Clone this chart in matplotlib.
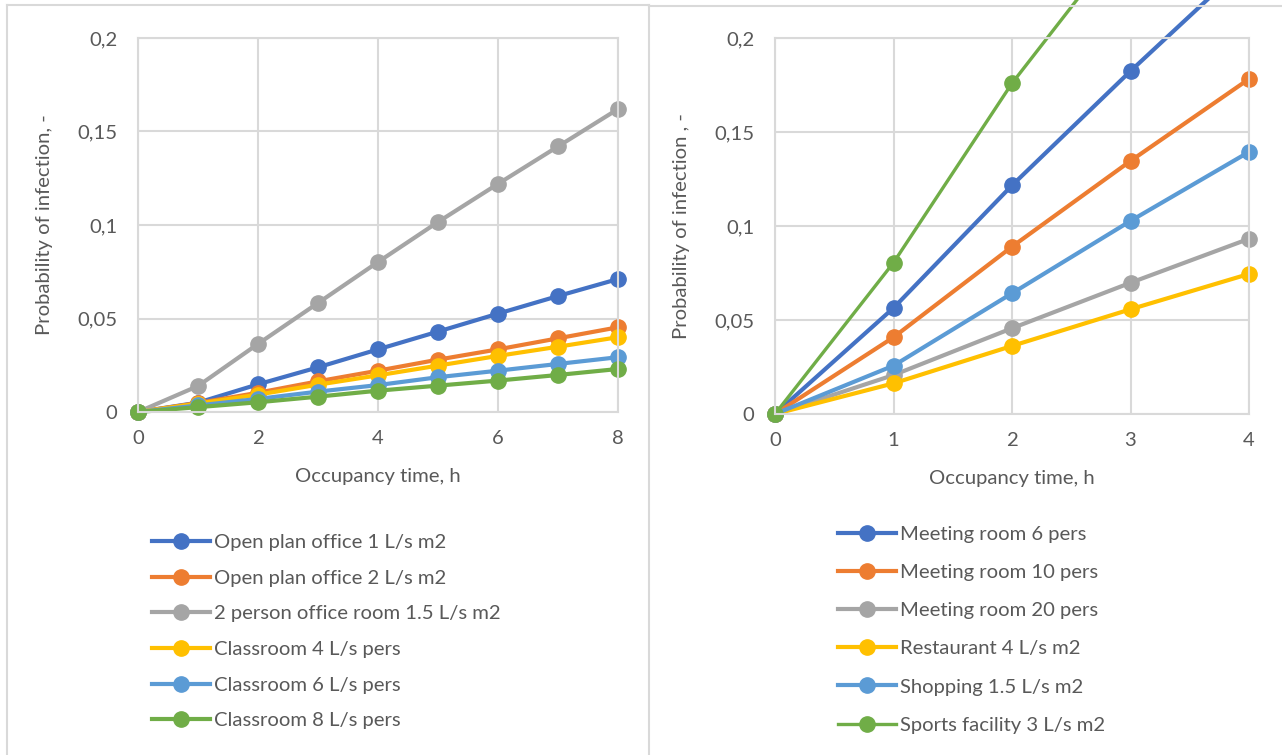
import matplotlib
matplotlib.use("Agg")
import matplotlib.pyplot as plt
from matplotlib.lines import Line2D
from matplotlib.patches import Rectangle
from matplotlib.ticker import FuncFormatter, MultipleLocator

plt.rcParams['font.family'] = ['Lato', 'DejaVu Sans']

# office / school spaces, 0-8 h
hours_left = [0, 1, 2, 3, 4, 5, 6, 7, 8]
open_office_1 = [0, 0.005, 0.0148, 0.0239, 0.0335, 0.0430, 0.0526, 0.0620, 0.0711]
open_office_2 = [0, 0.0048, 0.0103, 0.0164, 0.0221, 0.0280, 0.0335, 0.0394, 0.0453]
two_person_office = [0, 0.0139, 0.0364, 0.0583, 0.0802, 0.1016, 0.1220, 0.1420, 0.1620]
classroom_4 = [0, 0.0045, 0.0093, 0.0146, 0.0196, 0.0248, 0.0300, 0.0349, 0.0400]
classroom_6 = [0, 0.0035, 0.0070, 0.0109, 0.0144, 0.0186, 0.0221, 0.0257, 0.0293]
classroom_8 = [0, 0.0026, 0.0052, 0.0082, 0.0114, 0.0141, 0.0168, 0.0198, 0.0230]

labels_left = ["Open plan office 1 L/s m2", "Open plan office 2 L/s m2",
               "2 person office room 1.5 L/s m2", "Classroom 4 L/s pers",
               "Classroom 6 L/s pers", "Classroom 8 L/s pers"]

# meeting rooms and public spaces, 0-4 h
hours_right = [0, 1, 2, 3, 4]
meeting_6 = [0, 0.0564, 0.1216, 0.1824, 0.2410]
meeting_10 = [0, 0.0408, 0.0890, 0.1346, 0.1782]
meeting_20 = [0, 0.0207, 0.0456, 0.0698, 0.0932]
restaurant = [0, 0.0163, 0.0362, 0.0557, 0.0745]
shopping = [0, 0.0257, 0.0642, 0.1027, 0.1394]
sports = [0, 0.0805, 0.1759, 0.2570, 0.3350]

labels_right = ["Meeting room 6 pers", "Meeting room 10 pers", "Meeting room 20 pers",
                "Restaurant 4 L/s m2", "Shopping 1.5 L/s m2", "Sports facility 3 L/s m2"]

colors = ["#4472C4", "#ED7D31", "#A5A5A5", "#FFC000", "#5B9BD5", "#70AD47"]
grid_col = "#D9D9D9"
text_col = "#595959"
fs = 14.6

fig = plt.figure(figsize=(12.82, 7.55), dpi=100)

# panel frames
fig.add_artist(Line2D([7/1282, 7/1282], [0, 1 - 5/755], color=grid_col, lw=1.5))
fig.add_artist(Line2D([7/1282, 649/1282], [1 - 5/755, 1 - 5/755], color=grid_col, lw=1.5))
fig.add_artist(Line2D([649/1282, 649/1282], [0, 1 - 5/755], color=grid_col, lw=1.5))
fig.add_artist(Line2D([649/1282, 1], [1 - 6/755, 1 - 6/755], color=grid_col, lw=1.5))

ax1 = fig.add_axes([138/1282, 1 - 412/755, 480/1282, 374/755])
ax2 = fig.add_axes([775/1282, 1 - 414/755, 474/1282, 376/755])

comma = FuncFormatter(lambda v, p: ('%g' % round(v, 3)).replace('.', ','))


def style(ax, xmax, xstep, ylab):
    ax.set_xlim(0, xmax)
    ax.set_ylim(0, 0.2)
    ax.xaxis.set_major_locator(MultipleLocator(xstep))
    ax.yaxis.set_major_locator(MultipleLocator(0.05))
    ax.yaxis.set_major_formatter(comma)
    ax.grid(True, color=grid_col, lw=1.5)
    ax.set_axisbelow(True)
    for s in ax.spines.values():
        s.set_color(grid_col)
        s.set_linewidth(1.5)
    ax.tick_params(length=0, labelsize=fs, colors=text_col)
    ax.tick_params(axis='x', pad=13)
    ax.tick_params(axis='y', pad=15)
    ax.set_xlabel("Occupancy time, h", fontsize=fs, color=text_col, labelpad=15)
    ax.set_ylabel(ylab, fontsize=fs, color=text_col, labelpad=17)


def draw(ax, x, series, labels, widths):
    clip = Rectangle((-0.05, -0.06), 1.1, 1.06, transform=ax.transAxes)
    for ys, c, lab, w in zip(series, colors, labels, widths):
        ln, = ax.plot(x, ys, color=c, lw=w, marker='o', ms=11, label=lab, clip_on=False)
        ln.set_clip_path(clip)


style(ax1, 8, 2, "Probability of infection, -")
style(ax2, 4, 1, "Probability of infection , -")

draw(ax1, hours_left, [open_office_1, open_office_2, two_person_office,
                       classroom_4, classroom_6, classroom_8], labels_left, [3] * 6)
draw(ax2, hours_right, [meeting_6, meeting_10, meeting_20,
                        restaurant, shopping, sports], labels_right, [3] * 5 + [2.4])

leg_kw = dict(loc='upper left', bbox_transform=fig.transFigure, frameon=False,
              borderpad=0, borderaxespad=0, handlelength=2.85, handletextpad=0.2,
              fontsize=fs, labelcolor=text_col)
ax1.legend(bbox_to_anchor=(152/1282, 1 - 534/755), labelspacing=0.91, **leg_kw)
ax2.legend(bbox_to_anchor=(838/1282, 1 - 526/755), labelspacing=1.03, **leg_kw)

fig.savefig("out.png", dpi=100)
